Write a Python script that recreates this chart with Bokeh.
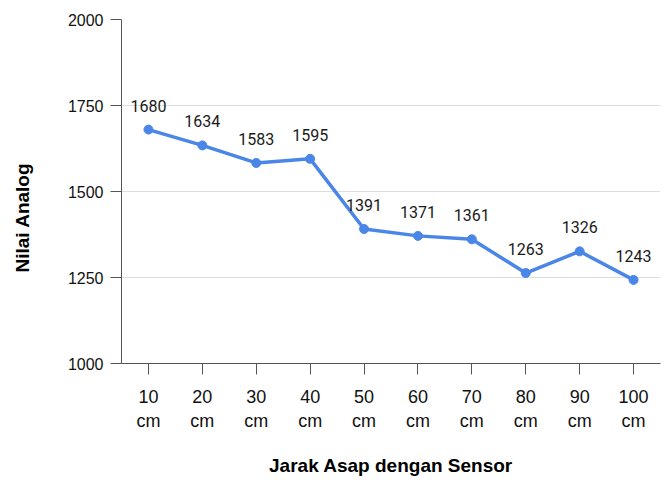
from bokeh.plotting import figure
from bokeh.models import ColumnDataSource, FixedTicker, Title
from bokeh.core.properties import value
from bokeh.embed import file_html
from bokeh.resources import INLINE

categories = ["10 cm", "20 cm", "30 cm", "40 cm", "50 cm", "60 cm", "70 cm", "80 cm", "90 cm", "100 cm"]
values = [1680, 1634, 1583, 1595, 1391, 1371, 1361, 1263, 1326, 1243]
y_ticks = [1000, 1250, 1500, 1750, 2000]
x_title = "Jarak Asap dengan Sensor"
y_title = "Nilai Analog"

factors = [c.replace(" ", "\n") for c in categories]
src = ColumnDataSource(dict(x=factors, y=values, lab=[str(v) for v in values]))

p = figure(x_range=factors, y_range=(1000, 2000), width=663, height=478,
           output_backend="svg", toolbar_location=None,
           min_border_left=121, min_border_top=19, min_border_right=3, min_border_bottom=115)
p.outline_line_color = None
p.background_fill_color = "white"
p.border_fill_color = "white"

line_color = "#4a86e8"
p.line("x", "y", source=src, line_color=line_color, line_width=3.5)
p.scatter("x", "y", source=src, size=9, fill_color=line_color, line_color=line_color)
p.text("x", "y", text="lab", source=src, y_offset=-24, text_align="center",
       text_baseline="middle", text_font=value("Roboto"), text_font_size="16px",
       text_color="#1a1a1a")

# y axis
p.yaxis.ticker = FixedTicker(ticks=y_ticks)
p.yaxis.major_tick_out = 11
p.yaxis.major_tick_in = 0
p.yaxis.minor_tick_line_color = None
p.yaxis.axis_line_color = "#555555"
p.yaxis.major_tick_line_color = "#555555"
p.yaxis.major_label_text_font = "Liberation Sans"
p.yaxis.major_label_text_font_size = "16px"
p.yaxis.major_label_text_color = "#111111"
p.yaxis.major_label_standoff = 7

# x axis
p.xaxis.major_tick_out = 11
p.xaxis.major_tick_in = 0
p.xaxis.axis_line_color = "#555555"
p.xaxis.major_tick_line_color = "#555555"
p.xaxis.major_label_text_font = "Liberation Sans"
p.xaxis.major_label_text_font_size = "18px"
p.xaxis.major_label_text_color = "#111111"
p.xaxis.major_label_standoff = 12
p.xaxis.axis_label = x_title
p.xaxis.axis_label_text_font = "Liberation Sans"
p.xaxis.axis_label_text_font_style = "bold"
p.xaxis.axis_label_text_font_size = "19px"
p.xaxis.axis_label_text_color = "#000000"
p.xaxis.axis_label_standoff = 21

p.xgrid.grid_line_color = None
p.ygrid.grid_line_color = "#dddddd"

has_standoff = "standoff" in Title.properties()

# spacer between the y tick labels and the y title
spacer = Title(text=" ", text_font_size="22px")
if has_standoff:
    spacer.standoff = 0
p.add_layout(spacer, "left")

ytitle = Title(text=y_title, align="left", offset=91,
               text_font="Liberation Sans", text_font_style="bold",
               text_font_size="19px", text_color="#000000")
p.add_layout(ytitle, "left")

open("out.html", "w").write(file_html(p, INLINE))
